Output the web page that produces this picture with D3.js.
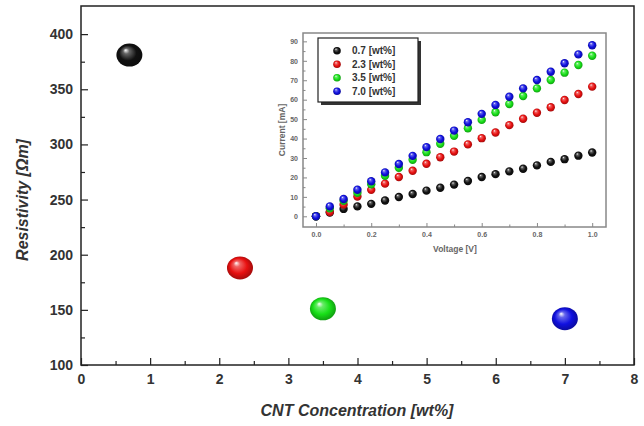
<!DOCTYPE html>
<html>
<head>
<meta charset="utf-8">
<script src="https://cdn.jsdelivr.net/npm/d3@7"></script>
<style>
  body { margin: 0; background: #fff; }
  svg { display: block; font-family: "Liberation Sans", Arial, sans-serif; }
</style>
</head>
<body>
<div id="viz"></div>
<script>
// main chart: resistivity vs CNT concentration
const concentrations = [0.7, 2.3, 3.5, 7.0];
const resistivity = [381, 188, 151, 142];
const ballColors = ['#111111', '#e81010', '#18e018', '#1010e0'];
const seriesLabels = ['0.7 [wt%]', '2.3 [wt%]', '3.5 [wt%]', '7.0 [wt%]'];

// inset: I-V curves
const voltage = [0, 0.05, 0.1, 0.15, 0.2, 0.25, 0.3, 0.35, 0.4, 0.45, 0.5,
  0.55, 0.6, 0.65, 0.7, 0.75, 0.8, 0.85, 0.9, 0.95, 1.0];
const current07 = [0, 1.9, 3.8, 5.1, 6.4, 8.1, 9.9, 11.5, 13.2, 14.7, 16.3,
  18.2, 20.2, 21.7, 23.1, 24.5, 26.2, 28.0, 29.4, 31.2, 32.8];
const current23 = [0, 2.2, 6.0, 10.2, 13.6, 16.8, 20.2, 23.4, 27.0, 30.4, 33.3,
  37.0, 40.2, 43.1, 46.9, 50.2, 53.3, 56.1, 59.8, 62.9, 66.7];
const current35 = [0, 4.1, 8.0, 12.1, 16.5, 20.9, 25.0, 29.1, 33.0, 37.3, 41.4,
  45.3, 49.6, 53.5, 57.8, 61.9, 65.8, 70.1, 73.9, 77.8, 82.6];
const current70 = [0, 5.1, 8.9, 13.7, 18.0, 22.6, 26.9, 31.1, 35.6, 39.8, 44.1,
  48.4, 52.7, 57.3, 61.5, 65.8, 70.1, 74.4, 78.7, 83.3, 88.0];
const currents = [current07, current23, current35, current70];

const mainXTicks = [0, 1, 2, 3, 4, 5, 6, 7, 8];
const mainYTicks = [100, 150, 200, 250, 300, 350, 400];
const insetXTicks = [0, 0.2, 0.4, 0.6, 0.8, 1.0];
const insetYTicks = [0, 10, 20, 30, 40, 50, 60, 70, 80, 90];

const width = 644, height = 426;

const svg = d3.select('#viz').append('svg')
  .attr('width', width)
  .attr('height', height);

const defs = svg.append('defs');
ballColors.forEach((c, i) => {
  const g = defs.append('radialGradient')
    .attr('id', 'ball' + i)
    .attr('cx', '0.5').attr('cy', '0.5').attr('r', '0.55')
    .attr('fx', '0.35').attr('fy', '0.28');
  g.append('stop').attr('offset', '0').attr('stop-color', '#ffffff');
  g.append('stop').attr('offset', '0.22').attr('stop-color', d3.interpolateRgb(c, '#fff')(0.35));
  g.append('stop').attr('offset', '0.6').attr('stop-color', c);
  g.append('stop').attr('offset', '1').attr('stop-color', d3.interpolateRgb(c, '#000')(0.35));
});

// ---- main plot ----
const x = d3.scaleLinear().domain([0, 8]).range([81, 634]);
const y = d3.scaleLinear().domain([100, 425.5]).range([365, 6]);

const main = svg.append('g');

main.append('rect')
  .attr('x', 81).attr('y', 6)
  .attr('width', 634 - 81).attr('height', 365 - 6)
  .attr('fill', 'none').attr('stroke', '#222').attr('stroke-width', 1.5);

// minor ticks
main.append('g')
  .attr('transform', 'translate(0,365)')
  .call(d3.axisBottom(x).tickValues(d3.range(0.5, 8, 1)).tickSize(-4).tickFormat(''))
  .call(g => g.select('.domain').remove())
  .selectAll('line').attr('stroke', '#222').attr('stroke-width', 1.2);
main.append('g')
  .attr('transform', 'translate(81,0)')
  .call(d3.axisLeft(y).tickValues(d3.range(125, 425, 50)).tickSize(-4).tickFormat(''))
  .call(g => g.select('.domain').remove())
  .selectAll('line').attr('stroke', '#222').attr('stroke-width', 1.2);

const xAxis = main.append('g')
  .attr('transform', 'translate(0,365)')
  .call(d3.axisBottom(x).tickValues(mainXTicks).tickSize(-7).tickPadding(9).tickFormat(d3.format('d')));
xAxis.select('.domain').remove();
xAxis.selectAll('line').attr('stroke', '#222').attr('stroke-width', 1.2);
xAxis.selectAll('text').attr('font-size', 14).attr('font-weight', 'bold').attr('fill', '#333');

const yAxis = main.append('g')
  .attr('transform', 'translate(81,0)')
  .call(d3.axisLeft(y).tickValues(mainYTicks).tickSize(-7).tickPadding(8));
yAxis.select('.domain').remove();
yAxis.selectAll('line').attr('stroke', '#222').attr('stroke-width', 1.2);
yAxis.selectAll('text').attr('font-size', 14).attr('font-weight', 'bold').attr('fill', '#333');

main.append('text')
  .attr('x', 357).attr('y', 416)
  .attr('text-anchor', 'middle')
  .attr('font-size', 16).attr('font-weight', 'bold').attr('font-style', 'italic')
  .attr('fill', '#333')
  .text('CNT Concentration [wt%]');

main.append('text')
  .attr('transform', 'translate(28,200) rotate(-90)')
  .attr('text-anchor', 'middle')
  .attr('font-size', 16).attr('font-weight', 'bold').attr('font-style', 'italic')
  .attr('fill', '#333')
  .text('Resistivity [Ωm]');

main.selectAll('.ball')
  .data(concentrations)
  .enter().append('ellipse')
  .attr('class', 'ball')
  .attr('cx', d => x(d))
  .attr('cy', (d, i) => y(resistivity[i]))
  .attr('rx', 13)
  .attr('ry', 11.5)
  .attr('fill', (d, i) => 'url(#ball' + i + ')');

// ---- inset ----
const ix = d3.scaleLinear().domain([-0.047, 1.05]).range([303, 606]);
const iy = d3.scaleLinear().domain([-5.5, 94.3]).range([227, 33]);
const inset = svg.append('g');

inset.append('rect')
  .attr('x', 303).attr('y', 33)
  .attr('width', 606 - 303).attr('height', 227 - 33)
  .attr('fill', '#fff').attr('stroke', '#888').attr('stroke-width', 1.5);

inset.append('g')
  .attr('transform', 'translate(0,227)')
  .call(d3.axisBottom(ix).tickValues(d3.range(0.1, 1.0, 0.2)).tickSize(-2.5).tickFormat(''))
  .call(g => g.select('.domain').remove())
  .selectAll('line').attr('stroke', '#888');
inset.append('g')
  .attr('transform', 'translate(303,0)')
  .call(d3.axisLeft(iy).tickValues(d3.range(5, 90, 10)).tickSize(-2.5).tickFormat(''))
  .call(g => g.select('.domain').remove())
  .selectAll('line').attr('stroke', '#888');

const ixAxis = inset.append('g')
  .attr('transform', 'translate(0,227)')
  .call(d3.axisBottom(ix).tickValues(insetXTicks).tickSize(-4).tickPadding(5).tickFormat(d3.format('.1f')));
ixAxis.select('.domain').remove();
ixAxis.selectAll('line').attr('stroke', '#888');
ixAxis.selectAll('text').attr('font-size', 7).attr('font-weight', 'bold').attr('fill', '#666');

const iyAxis = inset.append('g')
  .attr('transform', 'translate(303,0)')
  .call(d3.axisLeft(iy).tickValues(insetYTicks).tickSize(-4).tickPadding(5));
iyAxis.select('.domain').remove();
iyAxis.selectAll('line').attr('stroke', '#888');
iyAxis.selectAll('text').attr('font-size', 7).attr('font-weight', 'bold').attr('fill', '#666');

inset.append('text')
  .attr('x', 455).attr('y', 252)
  .attr('text-anchor', 'middle')
  .attr('font-size', 8.5).attr('font-weight', 'bold').attr('fill', '#666')
  .text('Voltage [V]');

inset.append('text')
  .attr('transform', 'translate(285,130) rotate(-90)')
  .attr('text-anchor', 'middle')
  .attr('font-size', 8.5).attr('font-weight', 'bold').attr('fill', '#666')
  .text('Current [mA]');

currents.forEach((series, s) => {
  inset.append('g').selectAll('circle')
    .data(series)
    .enter().append('circle')
    .attr('cx', (d, i) => ix(voltage[i]))
    .attr('cy', d => iy(d))
    .attr('r', 4.2)
    .attr('fill', 'url(#ball' + s + ')');
});

// legend
const legend = inset.append('g');
legend.append('rect')
  .attr('x', 321).attr('y', 41).attr('width', 100).attr('height', 64)
  .attr('fill', '#333');
legend.append('rect')
  .attr('x', 318).attr('y', 38).attr('width', 100).attr('height', 64)
  .attr('fill', '#fff').attr('stroke', '#222').attr('stroke-width', 1.2);

const legendRow = d3.scaleBand().domain(d3.range(4)).range([44, 98]);
seriesLabels.forEach((label, i) => {
  const cy = legendRow(i) + legendRow.bandwidth() / 2;
  legend.append('circle')
    .attr('cx', 337).attr('cy', cy).attr('r', 3.8)
    .attr('fill', 'url(#ball' + i + ')');
  legend.append('text')
    .attr('x', 352).attr('y', cy + 3.5)
    .attr('font-size', 10).attr('font-weight', 'bold').attr('fill', '#333')
    .text(label);
});
</script>
</body>
</html>
